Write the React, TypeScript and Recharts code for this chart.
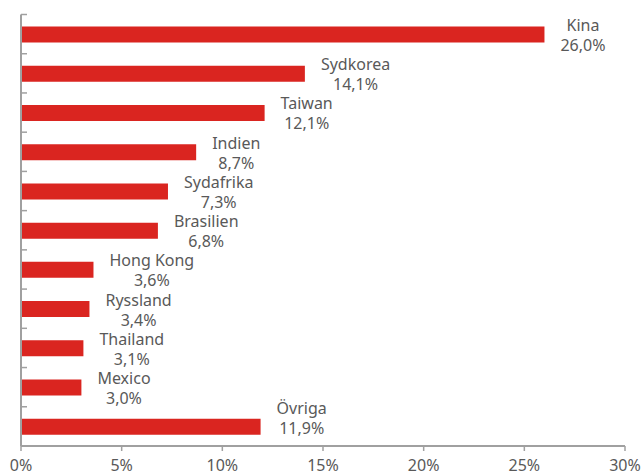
import { Bar, BarChart, LabelList, XAxis, YAxis } from "recharts";

const countries = [
  "Kina",
  "Sydkorea",
  "Taiwan",
  "Indien",
  "Sydafrika",
  "Brasilien",
  "Hong Kong",
  "Ryssland",
  "Thailand",
  "Mexico",
  "Övriga",
];

const weights = [26.0, 14.1, 12.1, 8.7, 7.3, 6.8, 3.6, 3.4, 3.1, 3.0, 11.9];

const xTicks = [0, 5, 10, 15, 20, 25, 30];

const FONT = "'Noto Sans', sans-serif";
const TEXT = "#595959";
const AXIS = "#a0a0a0";
const RED = "#da2520";

const CHART_W = 642;
const CHART_H = 474;
const MARGIN = { top: 14.5, right: 17, bottom: 0, left: 15 };
const X_AXIS_H = 28;
const ROW = (CHART_H - MARGIN.top - MARGIN.bottom - X_AXIS_H) / countries.length;

const data = countries.map((name, i) => ({ name, value: weights[i] }));

const formatPct = (v: number) => `${v.toFixed(1).replace(".", ",")}%`;

let ctx: CanvasRenderingContext2D | null = null;
const measure = (s: string) => {
  if (!ctx) {
    ctx = document.createElement("canvas").getContext("2d");
    if (ctx) ctx.font = `16px ${FONT}`;
  }
  return ctx ? ctx.measureText(s).width : s.length * 8;
};

const BarLabel = (props: any) => {
  const { x = 0, y = 0, width = 0, height = 0, index = 0 } = props;
  const name = countries[index];
  const valueText = formatPct(weights[index]);
  const boxWidth = Math.max(measure(name), measure(valueText));
  const cx = x + width + 16 + boxWidth / 2;
  // the bottom row's label is lifted so it stays clear of the x axis
  const lift = index === countries.length - 1 ? 9.5 : 0;
  const cy = y + height / 2 - lift;
  return (
    <g fontFamily={FONT} fontSize={16} fill={TEXT} textAnchor="middle">
      <text x={cx} y={cy - 3.5}>
        {name}
      </text>
      <text x={cx} y={cy + 16.5}>
        {valueText}
      </text>
    </g>
  );
};

// tick marks sit on the row boundaries, not on the row centres
const RowEdgeTick = (props: any) => {
  const { x = 0, y = 0, index = 0 } = props;
  const right = x + 6;
  const top = y - ROW / 2;
  return (
    <g stroke={AXIS} strokeWidth={1.5}>
      <line x1={right - 6} x2={right} y1={top} y2={top} />
      {index === countries.length - 1 ? (
        <line x1={right - 6} x2={right} y1={top + ROW} y2={top + ROW} />
      ) : null}
    </g>
  );
};

export default function App() {
  return (
    <div
      style={{
        position: "fixed",
        left: 0,
        top: 0,
        width: CHART_W,
        height: CHART_H,
        background: "#fff",
      }}
    >
      <BarChart width={CHART_W} height={CHART_H} data={data} layout="vertical" margin={MARGIN}>
        <XAxis
          type="number"
          domain={[0, 30]}
          ticks={xTicks}
          tickFormatter={(v) => `${v}%`}
          height={X_AXIS_H}
          tickSize={5}
          tickMargin={9}
          axisLine={{ stroke: AXIS, strokeWidth: 2 }}
          tickLine={{ stroke: AXIS, strokeWidth: 1.5 }}
          tick={{ fill: TEXT, fontSize: 16, fontFamily: FONT }}
          interval={0}
        />
        <YAxis
          type="category"
          dataKey="name"
          width={6}
          interval={0}
          tickLine={false}
          tickSize={0}
          tickMargin={0}
          axisLine={{ stroke: AXIS, strokeWidth: 2 }}
          tick={RowEdgeTick}
        />
        <Bar dataKey="value" fill={RED} barSize={16} isAnimationActive={false}>
          <LabelList dataKey="value" content={BarLabel} />
        </Bar>
      </BarChart>
    </div>
  );
}
